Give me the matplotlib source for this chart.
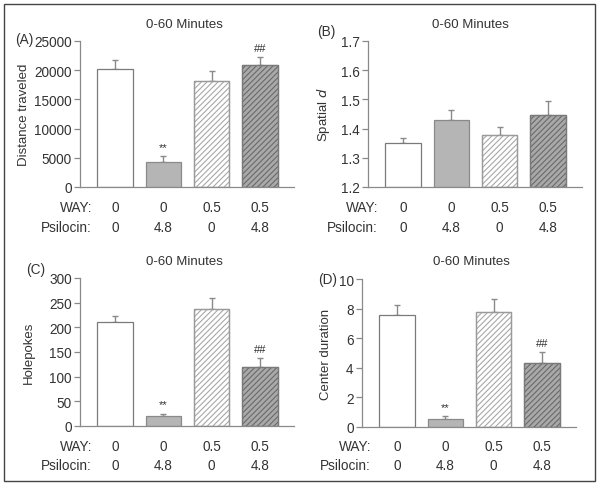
import matplotlib
matplotlib.use("Agg")
import matplotlib.pyplot as plt
from matplotlib.patches import Rectangle

plt.rcParams['font.family'] = ['Liberation Sans', 'DejaVu Sans']
plt.rcParams['hatch.linewidth'] = 0.8

way_labels = ["0", "0", "0.5", "0.5"]
psilocin_labels = ["0", "4.8", "0", "4.8"]

distance_mean = [20200, 4350, 18200, 20900]
distance_err = [1500, 900, 1600, 1400]

spatial_mean = [1.351, 1.428, 1.377, 1.447]
spatial_err = [0.017, 0.037, 0.028, 0.047]

holepokes_mean = [211, 21, 237, 120]
holepokes_err = [12, 4, 22, 17]

center_mean = [7.57, 0.56, 7.77, 4.32]
center_err = [0.67, 0.18, 0.86, 0.77]

W, H = 600, 489
fig = plt.figure(figsize=(6, 4.89), dpi=100)

TXT = '#333333'
AX = '#8a8a8a'
FS = 9.8

fills = ['white', '#b5b5b5', 'white', '#a9a9a9']
edges = ['#7a7a7a', '#8a8a8a', '#9a9a9a', '#7a7a7a']
hatches = [None, None, '//////', '//////']
hatch_cols = [None, None, '#a8a8a8', '#6a6a6a']


def px_axes(l, r, t, b):
    return fig.add_axes([l / W, 1 - b / H, (r - l) / W, (b - t) / H])


def panel(box, means, errs, ylim, yticks, yfmt, ylabel, letter, letter_xy,
          title_xy, lab_x, row_y, marks, ylab_x):
    l, r, t, b = box
    ax = px_axes(l, r, t, b)
    x = list(range(len(means)))
    base = ylim[0]
    heights = [m - base for m in means]
    ax.bar(x, heights, bottom=base, width=0.73, color=fills, edgecolor=edges,
           linewidth=0.9, zorder=2)
    for i in range(len(means)):
        if hatches[i]:
            ax.bar(x[i], heights[i], bottom=base, width=0.73, color='none',
                   edgecolor=hatch_cols[i], linewidth=0, hatch=hatches[i], zorder=3)
            ax.bar(x[i], heights[i], bottom=base, width=0.73, color='none',
                   edgecolor=edges[i], linewidth=0.9, zorder=4)
    ax.errorbar(x, means, yerr=[[0] * len(errs), errs], fmt='none',
                ecolor='#8a8a8a', elinewidth=1.0, capsize=2.5, capthick=1.0, zorder=1)
    ax.set_xlim(-0.72, 3.7)
    ax.set_ylim(*ylim)
    ax.set_yticks(yticks)
    ax.set_yticklabels([yfmt(v) for v in yticks], fontsize=FS, color=TXT)
    ax.set_xticks([])
    for s in ['top', 'right']:
        ax.spines[s].set_visible(False)
    for s in ['left', 'bottom']:
        ax.spines[s].set_color(AX)
        ax.spines[s].set_linewidth(0.9)
    ax.tick_params(axis='y', direction='out', length=4, width=0.9, color=AX, pad=2)
    ax.set_facecolor('none')
    for i, m in marks.items():
        ax.annotate(m, (x[i], means[i] + errs[i]), xytext=(0, 3),
                    textcoords='offset points', ha='center', va='bottom',
                    fontsize=8, color=TXT)

    def ftext(px, py, s, **kw):
        fig.text(px / W, 1 - py / H, s, color=TXT, **kw)
    ftext(title_xy[0], title_xy[1], "0-60 Minutes", ha='center', va='center', fontsize=9.5)
    ftext(letter_xy[0], letter_xy[1], letter, ha='left', va='center', fontsize=FS)
    ftext(lab_x, row_y[0], "WAY:", ha='right', va='center', fontsize=FS)
    ftext(lab_x, row_y[1], "Psilocin:", ha='right', va='center', fontsize=FS)
    for i in range(len(means)):
        cx = l + (x[i] + 0.72) / (3.7 + 0.72) * (r - l)
        ftext(cx, row_y[0], way_labels[i], ha='center', va='center', fontsize=FS)
        ftext(cx, row_y[1], psilocin_labels[i], ha='center', va='center', fontsize=FS)
    ftext(ylab_x, (t + b) / 2, ylabel, ha='center', va='center', rotation=90, fontsize=9.5)
    return ax


panel((80, 294, 42, 188), distance_mean, distance_err, (0, 25000),
      [0, 5000, 10000, 15000, 20000, 25000], lambda v: f"{v:d}",
      "Distance traveled", "(A)", (15, 40), (184, 25), 92, (208, 228),
      {1: "**", 3: "##"}, 24)

panel((368, 582, 42, 188), spatial_mean, spatial_err, (1.2, 1.7),
      [1.2, 1.3, 1.4, 1.5, 1.6, 1.7], lambda v: f"{v:.1f}",
      "Spatial $d$", "(B)", (317, 32), (470, 25), 378, (208, 228),
      {}, 323)

panel((80, 294, 279, 427), holepokes_mean, holepokes_err, (0, 300),
      [0, 50, 100, 150, 200, 250, 300], lambda v: f"{v:d}",
      "Holepokes", "(C)", (26, 270), (184, 262), 92, (447, 466),
      {1: "**", 3: "##"}, 29)

panel((362, 576, 280, 428), center_mean, center_err, (0, 10),
      [0, 2, 4, 6, 8, 10], lambda v: f"{v:d}",
      "Center duration", "(D)", (318, 280), (471, 262), 371, (447, 466),
      {1: "**", 3: "##"}, 326)

fig.patches.append(Rectangle((4 / W, 1 - 482 / H), 591 / W, 477 / H,
                             transform=fig.transFigure, fill=False,
                             edgecolor='#444444', linewidth=1.0))

fig.savefig("out.png", dpi=100, facecolor='white')
